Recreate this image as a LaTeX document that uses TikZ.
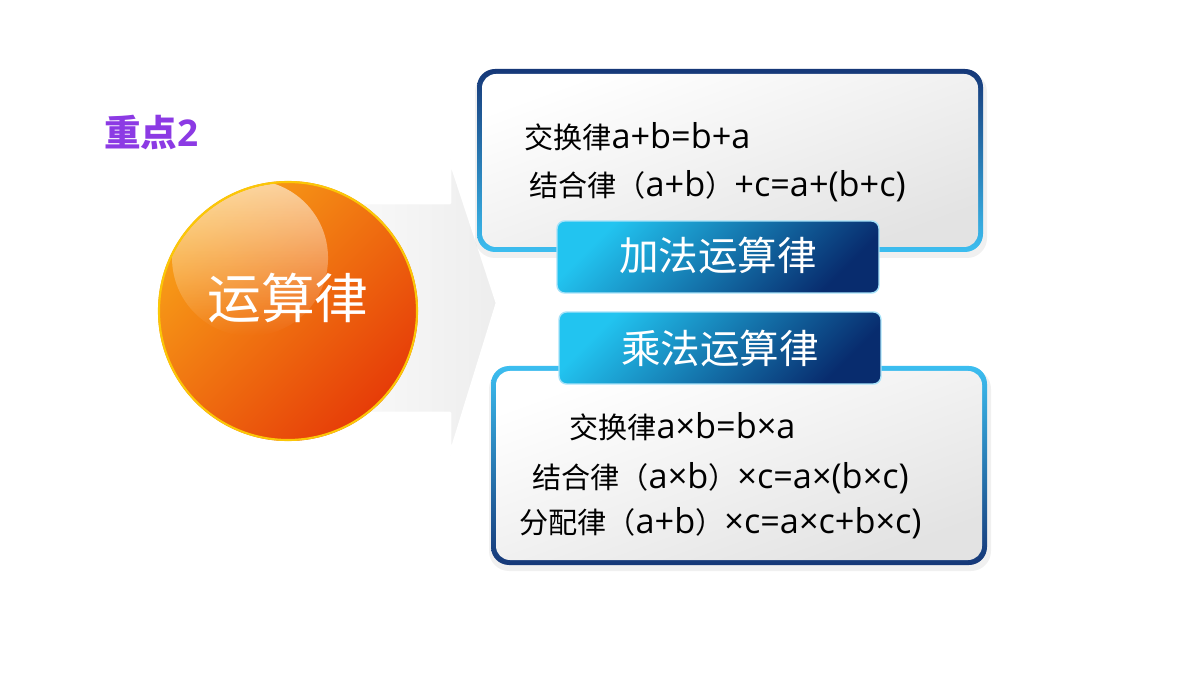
\documentclass[tikz,border=0pt]{standalone}
\usepackage{fontspec}
\setmainfont{Open Sans}
\newfontfamily\cjk{Noto Sans CJK SC}[Scale=0.85]
\usepackage{tikz}
\usetikzlibrary{fadings}
\definecolor{titlepurple}{RGB}{140,58,228}
\definecolor{boxnavy}{RGB}{22,56,120}
\definecolor{boxcyan}{RGB}{60,190,240}
\definecolor{btncyan}{RGB}{34,196,240}
\definecolor{btnnavy}{RGB}{8,44,110}
\definecolor{ballhi}{RGB}{248,160,24}
\definecolor{balllo}{RGB}{230,60,8}
\begin{document}
\begin{tikzpicture}[x=0.02cm, y=-0.02cm, line cap=round, line join=round,
    lawtext/.style={anchor=west, text=black, font=\fontsize{19.5}{22}\selectfont},
    lawbtn/.style={rounded corners=0.15cm, minimum width=6.44cm, minimum height=1.44cm,
      top color=btncyan, bottom color=btnnavy, shading angle=45,
      draw=cyan!35, line width=0.8pt, text=white, font=\cjk\fontsize{26.5}{29}\selectfont}]
			\useasboundingbox (0,0) rectangle (1200,675);
			\fill[white] (0,0) rectangle (1200,675);
			% arrow behind the ball
			\shade[left color=gray!4, right color=gray!14] (340,203) -- (450,203) -- (450,160) -- (497,303) -- (450,455) -- (450,413) -- (340,413) -- cycle;
			\draw[white, line width=1.5pt] (340,203) -- (450,203) -- (450,160) -- (497,303) -- (450,455) -- (450,413) -- (340,413);
			% ball
			\shade[top color=ballhi, bottom color=balllo, shading angle=45] (288,311) circle (130);
			\begin{scope}
				\clip (288,311) circle (128);
				\fill[white, fill opacity=0.6, path fading=south] (250,258) circle (78);
			\end{scope}
			\draw[yellow!60!orange, line width=1.2pt] (288,311) circle (129);
			\draw (288,298) node[text=white, font=\cjk\fontsize{36}{38}\selectfont] (core) {运算律};
			\draw (98,132) node[anchor=west, text=titlepurple, font=\bfseries\fontsize{21}{24}\selectfont] (title) {{\cjk\fontsize{24.5}{26}\selectfont 重点}2};
			% soft shadows
			\fill[black, opacity=0.06, rounded corners=0.4cm] (475,72) rectangle (987,258);
			\fill[black, opacity=0.06, rounded corners=0.4cm] (489,369) rectangle (991,571);
			% upper box
			\shade[top color=boxnavy, middle color=boxnavy!60!boxcyan, bottom color=boxcyan, rounded corners=0.36cm] (477,69) rectangle (983,252);
			\shade[top color=white, bottom color=gray!22, shading angle=20, rounded corners=0.28cm] (482,74) rectangle (978,247);
			% lower box
			\shade[top color=boxcyan, middle color=boxcyan!60!boxnavy, bottom color=boxnavy, rounded corners=0.36cm] (491,366) rectangle (987,565);
			\shade[top color=white, bottom color=gray!22, shading angle=20, rounded corners=0.28cm] (496,371) rectangle (982,560);
			\draw (518,137) node[lawtext] (addcomm) {{\cjk 交换律}a+b=b+a};
			\draw (523,186) node[lawtext] (addassoc) {{\cjk 结合律（}a+b{\cjk ）}+c=a+(b+c)};
			\draw (563,427) node[lawtext] (mulcomm) {{\cjk 交换律}a×b=b×a};
			\draw (526,478) node[lawtext] (mulassoc) {{\cjk 结合律（}a×b{\cjk ）}×c=a×(b×c)};
			\draw (513,523) node[lawtext] (distrib) {{\cjk 分配律（}a+b{\cjk ）}×c=a×c+b×c)};
			% buttons
			\node[lawbtn] (addlaw) at (718,257) {\raisebox{4pt}{加法运算律}};
			\node[lawbtn] (mullaw) at (720,348) {乘法运算律};
		\end{tikzpicture}
\end{document}
